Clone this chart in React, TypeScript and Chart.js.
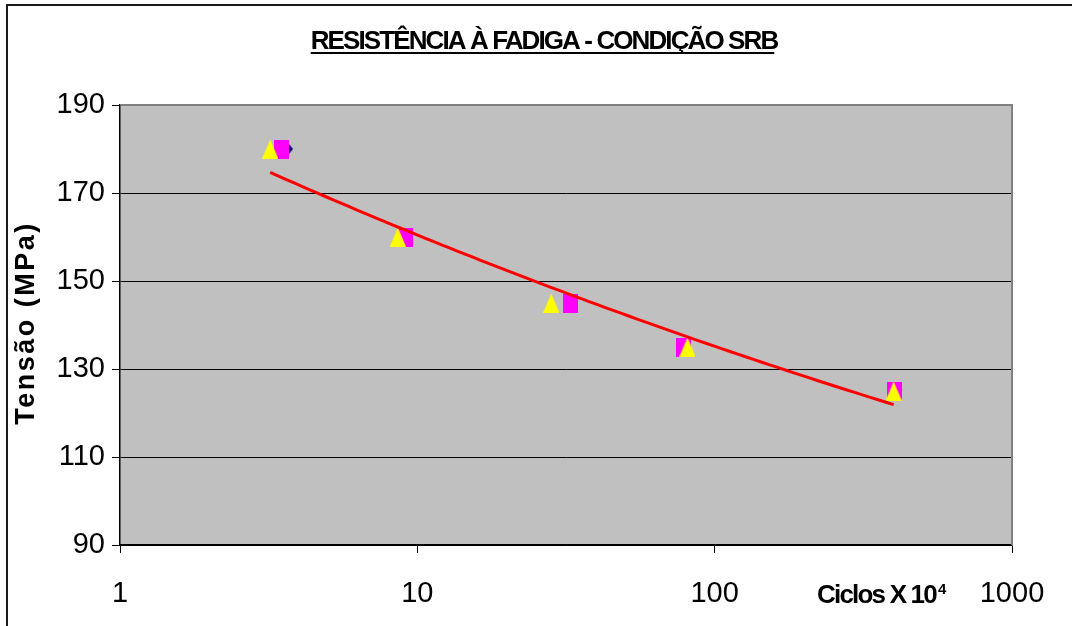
import React, { useEffect, useRef } from "react";
import { Chart, registerables } from "chart.js";

Chart.register(...registerables);

// ---- text ----
const TITLE = "RESISTÊNCIA À FADIGA - CONDIÇÃO SRB";
const Y_TITLE = "Tensão (MPa)";
const X_TITLE = "Ciclos X 10";
const X_TITLE_SUP = "4";

// ---- axes ----
const xTickValues = [1, 10, 100, 1000];
const xMin = 1;
const xMax = 1000;
const yMin = 90;
const yMax = 190;
const yStep = 20;

// ---- series (cycles x10^4, MPa) ----
const diamondX = [3.6, 9.1, 32.8, 78.6, 403];
const diamondY = [180, 160, 145, 135, 125];
const squareX = [3.5, 9.1, 32.8, 78.6, 403];
const squareY = [180, 160, 145, 135, 125];
const triangleX = [3.2, 8.6, 28.2, 81, 400];
const triangleY = [180, 160, 145, 135, 125];

function powerFit(xs: number[], ys: number[]) {
  const lx = xs.map(Math.log);
  const ly = ys.map(Math.log);
  const n = xs.length;
  const mx = lx.reduce((s, v) => s + v, 0) / n;
  const my = ly.reduce((s, v) => s + v, 0) / n;
  let sxy = 0;
  let sxx = 0;
  for (let i = 0; i < n; i++) {
    sxy += (lx[i] - mx) * (ly[i] - my);
    sxx += (lx[i] - mx) * (lx[i] - mx);
  }
  const b = sxy / sxx;
  const a = Math.exp(my - b * mx);
  return { a, b };
}

function trendPoints(xs: number[], ys: number[]) {
  const { a, b } = powerFit(xs, ys);
  const lo = Math.log(Math.min(...xs));
  const hi = Math.log(Math.max(...xs));
  const pts: { x: number; y: number }[] = [];
  const steps = 80;
  for (let i = 0; i <= steps; i++) {
    const x = Math.exp(lo + ((hi - lo) * i) / steps);
    pts.push({ x, y: a * Math.pow(x, b) });
  }
  return pts;
}

function makeMarker(w: number, h: number, color: string, shape: string) {
  const c = document.createElement("canvas");
  c.width = w;
  c.height = h;
  const g = c.getContext("2d")!;
  g.fillStyle = color;
  g.beginPath();
  if (shape === "tri") {
    g.moveTo(w / 2, 0);
    g.lineTo(w, h);
    g.lineTo(0, h);
    g.closePath();
  } else if (shape === "diamond") {
    g.moveTo(w / 2, 0);
    g.lineTo(w, h / 2);
    g.lineTo(w / 2, h);
    g.lineTo(0, h / 2);
    g.closePath();
  } else {
    g.rect(0, 0, w, h);
  }
  g.fill();
  return c;
}

const zip = (xs: number[], ys: number[]) => xs.map((x, i) => ({ x, y: ys[i] }));

const FONT = '"Liberation Sans", Arial, sans-serif';

const decorPlugin = {
  id: "decor",
  beforeDraw(chart: any) {
    const ctx = chart.ctx;
    const a = chart.chartArea;
    ctx.save();
    ctx.strokeStyle = "#1a1a1a";
    ctx.lineWidth = 2;
    ctx.strokeRect(7, 5, 1200, 800);
    ctx.fillStyle = "#C0C0C0";
    ctx.fillRect(a.left, a.top, a.right - a.left, a.bottom - a.top);
    ctx.restore();
  },
  beforeDatasetsDraw(chart: any) {
    const ctx = chart.ctx;
    const a = chart.chartArea;
    ctx.save();
    ctx.strokeStyle = "#808080";
    ctx.lineWidth = 2;
    ctx.beginPath();
    ctx.moveTo(a.left + 1, a.top);
    ctx.lineTo(a.right, a.top);
    ctx.lineTo(a.right, a.bottom);
    ctx.stroke();
    ctx.restore();
  },
  afterDraw(chart: any) {
    const ctx = chart.ctx;
    ctx.save();
    ctx.fillStyle = "#000";
    ctx.strokeStyle = "#000";
    // title
    ctx.font = `bold 26px ${FONT}`;
    (ctx as any).letterSpacing = "-1.9px";
    ctx.textAlign = "left";
    ctx.textBaseline = "alphabetic";
    const tw = ctx.measureText(TITLE).width;
    const tx = 544 - tw / 2;
    ctx.fillText(TITLE, tx, 49);
    ctx.lineWidth = 2;
    ctx.beginPath();
    ctx.moveTo(tx, 53);
    ctx.lineTo(tx + tw - 3, 53);
    ctx.stroke();

    // x title
    ctx.font = `bold 26px ${FONT}`;
    (ctx as any).letterSpacing = "-1.8px";
    ctx.fillText(X_TITLE, 817, 603);
    const xw = ctx.measureText(X_TITLE).width;
    ctx.font = `bold 15px ${FONT}`;
    (ctx as any).letterSpacing = "0px";
    ctx.fillText(X_TITLE_SUP, 817 + xw + 2, 594);

    // y title
    ctx.font = `bold 27px ${FONT}`;
    (ctx as any).letterSpacing = "2.5px";
    ctx.translate(34, 324);
    ctx.rotate(-Math.PI / 2);
    const yw = ctx.measureText(Y_TITLE).width;
    ctx.fillText(Y_TITLE, -yw / 2 + 1, 0);
    ctx.restore();
  },
};

export default function App() {
  const ref = useRef<HTMLCanvasElement | null>(null);

  useEffect(() => {
    if (!ref.current) return;
    const tri = makeMarker(16, 19, "#FFFF00", "tri");
    const sq = makeMarker(15, 19, "#FF00FF", "rect");
    const dia = makeMarker(15, 19, "#000080", "diamond");
    const tickFont = { family: FONT, size: 29 };

    const chart = new Chart(ref.current, {
      type: "scatter",
      data: {
        datasets: [
          {
            label: "trend",
            type: "line",
            data: trendPoints(triangleX, triangleY),
            borderColor: "#FF0000",
            borderWidth: 3,
            pointRadius: 0,
            showLine: true,
            fill: false,
            tension: 0,
            order: 0,
          } as any,
          { label: "s3", data: zip(triangleX, triangleY), pointStyle: tri, order: 1 },
          { label: "s2", data: zip(squareX, squareY), pointStyle: sq, order: 2 },
          { label: "s1", data: zip(diamondX, diamondY), pointStyle: dia, order: 3 },
        ],
      },
      options: {
        animation: false,
        responsive: false,
        devicePixelRatio: 1,
        layout: { padding: { left: 0, top: 105, right: 60, bottom: 0 } },
        plugins: {
          legend: { display: false },
          title: { display: false },
          tooltip: { enabled: false },
        },
        scales: {
          x: {
            type: "logarithmic",
            min: xMin,
            max: xMax,
            afterBuildTicks: (s: any) => {
              s.ticks = xTickValues.map((v) => ({ value: v, major: true }));
            },
            afterFit: (s: any) => {
              s.height = 81;
              s.paddingLeft = 0;
              s.paddingRight = 0;
            },
            ticks: {
              callback: (v: any) => String(v),
              font: tickFont,
              color: "#000",
              padding: 24,
              maxRotation: 0,
              autoSkip: false,
            },
            grid: {
              drawOnChartArea: false,
              tickLength: 8,
              tickColor: "#000",
              tickWidth: 1,
            },
            border: { color: "#000", width: 1.5 },
          },
          y: {
            type: "linear",
            min: yMin,
            max: yMax,
            ticks: {
              stepSize: yStep,
              font: tickFont,
              color: "#000",
              padding: 7,
            },
            afterFit: (s: any) => {
              s.width = 120;
              s.paddingTop = 0;
              s.paddingBottom = 0;
            },
            grid: {
              color: (c: any) => (c.tick && c.tick.value === yMax ? "rgba(0,0,0,0)" : "#000"),
              lineWidth: 1,
              tickLength: 8,
              tickColor: "#000",
              tickWidth: 1,
            },
            border: { color: "#000", width: 1.5 },
          },
        },
      },
      plugins: [decorPlugin],
    } as any);

    return () => chart.destroy();
  }, []);

  return (
    <div style={{ position: "absolute", left: 0, top: 0, width: 1072, height: 626, background: "#fff" }}>
      <canvas ref={ref} width={1072} height={626} style={{ display: "block" }} />
    </div>
  );
}
